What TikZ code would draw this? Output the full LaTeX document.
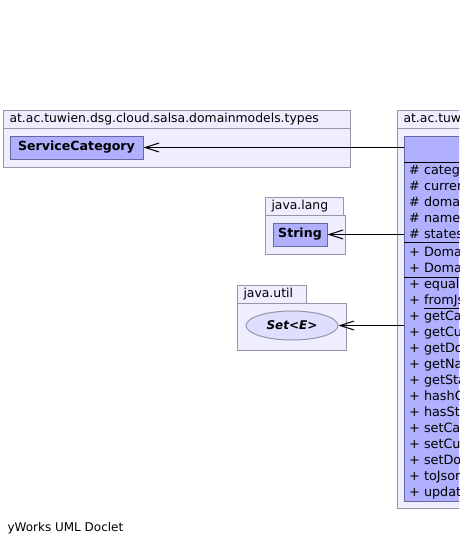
\documentclass[tikz,border=0pt]{standalone}
\usepackage{fontspec}
\setmainfont{DejaVu Sans}
\usetikzlibrary{arrows.meta, positioning, shapes.geometric}

\definecolor{pkgfill}{RGB}{238,238,255}
\definecolor{pkgline}{RGB}{150,150,170}
\definecolor{clsfill}{RGB}{176,176,255}
\definecolor{clsline}{RGB}{104,104,160}
\definecolor{ifcfill}{RGB}{222,222,255}

\begin{document}
\begin{tikzpicture}[x=1pt, y=-1pt, line width=1pt,
		font=\fontsize{12.4}{14}\selectfont,
		pkgtab/.style={rectangle, draw=pkgline, fill=pkgfill, anchor=north west, inner xsep=6pt, inner ysep=0pt, minimum height=18pt, text height=9pt, text depth=2.5pt, align=left},
		pkgbody/.style={rectangle, draw=pkgline, fill=pkgfill, anchor=north west, inner sep=0pt},
		umlclass/.style={rectangle, draw=clsline, fill=clsfill, inner sep=0pt, minimum height=23pt, font=\fontsize{12.6}{14}\selectfont\bfseries},
		iface/.style={ellipse, draw=pkgline, fill=ifcfill, inner sep=0pt, font=\fontsize{12}{14}\selectfont\bfseries\itshape},
		member/.style={anchor=west, inner sep=0pt, text height=9pt, text depth=2.5pt, font=\fontsize{12.8}{14}\selectfont},
		uses/.style={-{Straight Barb[length=14pt, width=9pt]}, black}
		]
		\useasboundingbox (0,0) rectangle (459,546);
		\clip (0,0) rectangle (459,546);

		% package of the category type
		\node at (3,110) [name=types tab, pkgtab, text width=335pt] {at.ac.tuwien.dsg.cloud.salsa.domainmodels.types};
		\node at (3,128) [name=types body, pkgbody, minimum width=347pt, minimum height=39pt] {};
		\node at (76.5,147.5) [name=service category, umlclass, minimum width=133pt] {ServiceCategory};

		% java.lang
		\node at (265,197) [name=lang tab, pkgtab, text width=66pt] {java.lang};
		\node at (265,215) [name=lang body, pkgbody, minimum width=80pt, minimum height=39pt] {};
		\node at (300,234.5) [name=string, umlclass, minimum width=54pt] {String};

		% java.util
		\node at (237,285) [name=util tab, pkgtab, text width=57pt] {java.util};
		\node at (237,303) [name=util body, pkgbody, minimum width=109pt, minimum height=47pt] {};
		\node at (292,325.5) [name=set, iface, minimum width=92pt, minimum height=29pt] {Set<E>};

		% the domain model package
		\node at (397,110) [name=model tab, pkgtab, text width=300pt] {at.ac.tuwien.dsg.cloud.salsa.domainmodels};
		\node at (397,128) [name=model body, pkgbody, minimum width=420pt, minimum height=380pt] {};
		\node at (404,136) [name=entity, rectangle, draw=clsline, fill=clsfill, anchor=north west, inner sep=0pt, minimum width=320pt, minimum height=365pt] {};
		\node at (564,149) [name=entity name, font=\fontsize{12.6}{14}\selectfont\bfseries] {DomainEntity};
		\draw (404,162) -- ++(320,0);
		\draw (404,242) -- ++(320,0);
		\draw (404,277) -- ++(320,0);

		\foreach \y/\vis/\txt [count=\i] in {
				171/\#/category, 187/\#/currentState, 203/\#/domainID, 219/\#/name, 235/\#/states,
				253/+/DomainEntity(), 269/+/DomainEntity(),
				285/+/equals(), 301/+/\underline{fromJson()}, 317/+/getCategory(), 333/+/getCurrentState(),
				349/+/getDomainID(), 365/+/getName(), 381/+/getStates(), 397/+/hashCode(),
				413/+/hasState(), 429/+/setCategory(), 445/+/setCurrentState(), 461/+/setDomainID(),
				477/+/toJson(), 493/+/update()} {
			\node at (408.5,\y) [name=vis \i, member] {\vis};
			\node at (423.5,\y) [name=member \i, member] {\txt};
		}

		% dependencies
		\draw[uses] (entity.west |- service category.east) -- (service category.east);
		\draw[uses] (entity.west |- string.east) -- (string.east);
		\draw[uses] (entity.west |- set.east) -- (set.east);

		\node at (7,528) [name=doclet, anchor=west, inner sep=0pt, font=\fontsize{12}{14}\selectfont] {yWorks UML Doclet};
	\end{tikzpicture}
\end{document}
